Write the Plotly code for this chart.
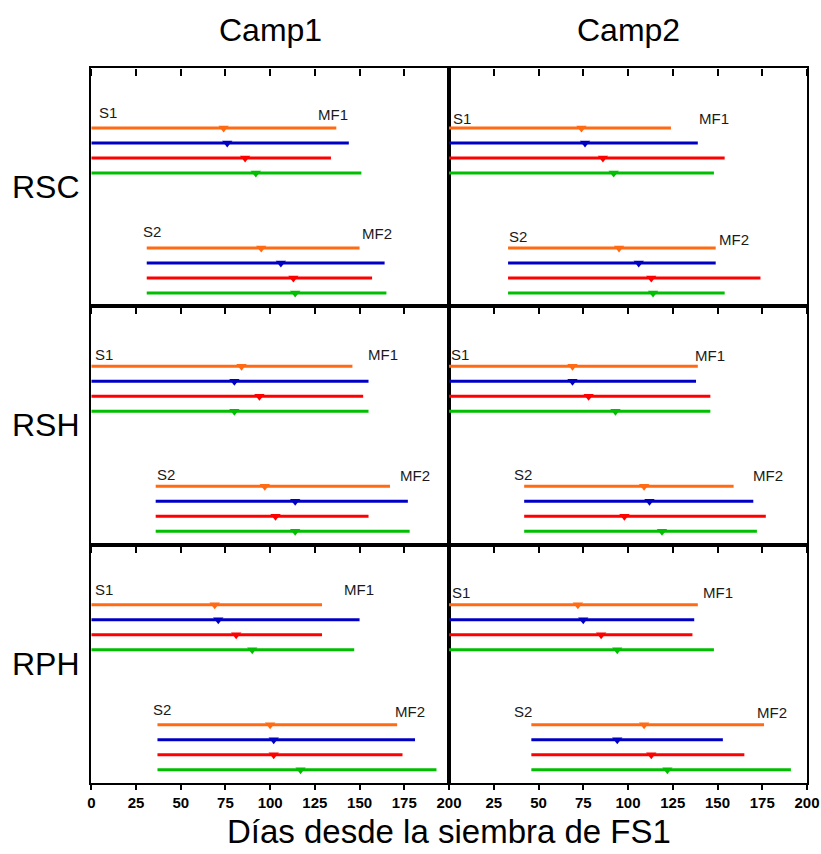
import plotly.graph_objects as go

# Panels: rows are the systems, columns the campaigns
systems = ["RSC", "RSH", "RPH"]
campaigns = ["Camp1", "Camp2"]

# Four cultivars, drawn in this colour order in every group
series_colors = ["#FF6A12", "#0000C4", "#FF0000", "#00BE00"]

# Sowing day of the second date (S2) per panel: (system, campaign)
s2_start = {
    ("RSC", "Camp1"): 31, ("RSC", "Camp2"): 33,
    ("RSH", "Camp1"): 36, ("RSH", "Camp2"): 42,
    ("RPH", "Camp1"): 37, ("RPH", "Camp2"): 46,
}

# Physiological maturity (end of each bar), days since FS1
mf1_end = {
    ("RSC", "Camp1"): [137, 144, 134, 151], ("RSC", "Camp2"): [124, 139, 154, 148],
    ("RSH", "Camp1"): [146, 155, 152, 155], ("RSH", "Camp2"): [139, 138, 146, 146],
    ("RPH", "Camp1"): [129, 150, 129, 147], ("RPH", "Camp2"): [139, 137, 136, 148],
}
mf2_end = {
    ("RSC", "Camp1"): [150, 164, 157, 165], ("RSC", "Camp2"): [149, 149, 174, 154],
    ("RSH", "Camp1"): [167, 177, 155, 178], ("RSH", "Camp2"): [159, 170, 177, 172],
    ("RPH", "Camp1"): [171, 181, 174, 193], ("RPH", "Camp2"): [176, 153, 165, 191],
}

# Flowering date (triangle markers), days since FS1
flower1 = {
    ("RSC", "Camp1"): [74, 76, 86, 92], ("RSC", "Camp2"): [74, 76, 86, 92],
    ("RSH", "Camp1"): [84, 80, 94, 80], ("RSH", "Camp2"): [69, 69, 78, 93],
    ("RPH", "Camp1"): [69, 71, 81, 90], ("RPH", "Camp2"): [72, 75, 85, 94],
}
flower2 = {
    ("RSC", "Camp1"): [95, 106, 113, 114], ("RSC", "Camp2"): [95, 106, 113, 114],
    ("RSH", "Camp1"): [97, 114, 103, 114], ("RSH", "Camp2"): [109, 112, 98, 119],
    ("RPH", "Camp1"): [100, 102, 102, 117], ("RPH", "Camp2"): [109, 94, 113, 122],
}

x_ticks = [0, 25, 50, 75, 100, 125, 150, 175, 200]

# Placement of the S1 / MF1 / S2 / MF2 tags inside each panel (x in days, y in row units)
tag_pos = {
    ("RSC", "Camp1"): [(9.5, 3.0), (135, 3.1), (34, 10.9), (160, 11.0)],
    ("RSC", "Camp2"): [(7.3, 3.4), (148, 3.4), (38.5, 11.2), (159, 11.4)],
    ("RSH", "Camp1"): [(7.1, 3.2), (163, 3.2), (41.8, 11.2), (181, 11.3)],
    ("RSH", "Camp2"): [(6.4, 3.2), (146, 3.3), (41.4, 11.2), (178, 11.3)],
    ("RPH", "Camp1"): [(7.1, 3.0), (149.5, 3.0), (39.4, 11.0), (178, 11.1)],
    ("RPH", "Camp2"): [(6.9, 3.2), (150, 3.2), (41.4, 11.1), (180.6, 11.2)],
}
tag_text = ["S1", "MF1", "S2", "MF2"]

W, H = 821, 854
col_px = [(91.3, 449.0), (449.0, 807.0)]
row_top, row_bottom = 68.0, 783.0
row_h = (row_bottom - row_top) / 3
y_span = row_h / 15.0           # 15 px per row unit
group_rows = [[4, 5, 6, 7], [12, 13, 14, 15]]

fig = go.Figure()
layout = {}
annotations = []

base_axis = dict(range=[0, 200], showgrid=False, zeroline=False, automargin=False)

for r, sysname in enumerate(systems):
    top = row_top + r * row_h
    ydom = [1 - (top + row_h) / H, 1 - top / H]
    for c, camp in enumerate(campaigns):
        k = r * 2 + c + 1
        xs = "" if k == 1 else str(k)
        key = (sysname, camp)
        xdom = [col_px[c][0] / W, col_px[c][1] / W]
        # frame of the panel
        layout["xaxis" + xs] = dict(
            base_axis, domain=xdom, anchor="y" + xs, side="bottom",
            ticks="", showticklabels=False,
            showline=True, linewidth=2, linecolor="black", mirror=True,
        )
        layout["yaxis" + xs] = dict(
            domain=ydom, anchor="x" + xs, range=[y_span, 0],
            showticklabels=False, ticks="", showline=True, linewidth=2,
            linecolor="black", mirror=True, showgrid=False, zeroline=False,
            automargin=False,
        )
        # tick marks hanging down from the top edge of the panel
        top_name = str(8 + k)
        layout["xaxis" + top_name] = dict(
            base_axis, overlaying="x" + xs, anchor="free", position=ydom[1],
            side="bottom", tickmode="array", tickvals=x_ticks, ticks="outside",
            ticklen=7, tickwidth=2, tickcolor="black", showticklabels=False,
            showline=False,
        )
        fig.add_trace(go.Scatter(
            x=[0], y=[0], mode="markers", marker=dict(opacity=0),
            xaxis="x" + top_name, yaxis="y" + xs, showlegend=False, hoverinfo="skip",
        ))
        groups = [
            (0, mf1_end[key], flower1[key]),
            (s2_start[key], mf2_end[key], flower2[key]),
        ]
        for g, (start, ends, flw) in enumerate(groups):
            for i, color in enumerate(series_colors):
                yy = group_rows[g][i]
                fig.add_trace(go.Scatter(
                    x=[start, ends[i]], y=[yy, yy], mode="lines",
                    line=dict(color=color, width=3),
                    xaxis="x" + xs, yaxis="y" + xs, showlegend=False, hoverinfo="skip",
                ))
                fig.add_trace(go.Scatter(
                    x=[flw[i]], y=[yy], mode="markers",
                    marker=dict(symbol="triangle-down", size=9, color=color),
                    xaxis="x" + xs, yaxis="y" + xs, showlegend=False, hoverinfo="skip",
                ))
        for (tx, ty), t in zip(tag_pos[key], tag_text):
            annotations.append(dict(
                x=tx, y=ty, xref="x" + xs, yref="y" + xs, text=t, showarrow=False,
                font=dict(family="Liberation Sans, Arial", size=15, color="#1a1a1a"),
                xanchor="center", yanchor="middle",
            ))

# Labelled bottom axes under the last row
for c, base in enumerate(["5", "6"]):
    name = str(7 + c)
    labels = [str(v) for v in x_ticks]
    if c == 1:
        labels[0] = ""
    layout["xaxis" + name] = dict(
        base_axis, overlaying="x" + base, anchor="y" + base, side="bottom",
        tickmode="array", tickvals=x_ticks, ticktext=labels, ticks="outside",
        ticklen=6, tickwidth=2, tickcolor="black", showline=False,
        tickfont=dict(family="Liberation Sans, Arial", size=15,
                      color="black", weight="bold"),
    )
    fig.add_trace(go.Scatter(
        x=[0], y=[0], mode="markers", marker=dict(opacity=0),
        xaxis="x" + name, yaxis="y" + base, showlegend=False, hoverinfo="skip",
    ))

big = dict(family="Liberation Sans, Arial", size=32, color="black")
for c, camp in enumerate(campaigns):
    annotations.append(dict(
        x=(col_px[c][0] + col_px[c][1]) / 2 / W, y=1 - 30 / H, xref="paper", yref="paper",
        text=camp, showarrow=False, font=big, xanchor="center", yanchor="middle",
    ))
for r, sysname in enumerate(systems):
    annotations.append(dict(
        x=46 / W, y=1 - (row_top + r * row_h + 119) / H, xref="paper", yref="paper",
        text=sysname, showarrow=False, font=big, xanchor="center", yanchor="middle",
    ))
annotations.append(dict(
    x=449 / W, y=1 - 831 / H, xref="paper", yref="paper",
    text="Días desde la siembra de FS1", showarrow=False,
    font=dict(family="Liberation Sans, Arial", size=33, color="black"),
    xanchor="center", yanchor="middle",
))

fig.update_layout(
    template="none",
    width=W, height=H, margin=dict(l=0, r=0, t=0, b=0, autoexpand=False),
    plot_bgcolor="white", paper_bgcolor="white",
    annotations=annotations, **layout,
)

fig.write_html("out.html")
